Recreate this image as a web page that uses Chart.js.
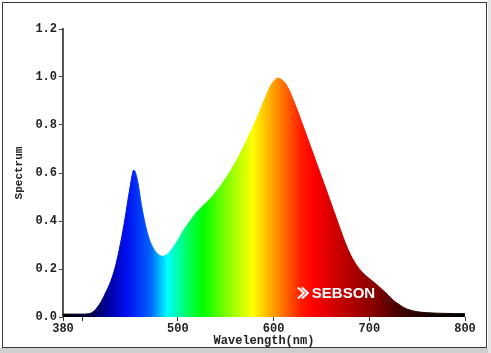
<!DOCTYPE html>
<html>
<head>
<meta charset="utf-8">
<script src="https://cdn.jsdelivr.net/npm/chart.js@4/dist/chart.umd.min.js"></script>
<style>
html,body{margin:0;padding:0;background:#fff;}
#wrap{width:491px;height:353px;position:relative;}
</style>
</head>
<body>
<div id="wrap"><canvas id="c" width="491" height="353"></canvas></div>
<script>
// ---- data ----
const wavelengths = [380,390,400,405,410,415,420,425,430,435,440,445,450,454,458,462,466,470,475,480,484,490,495,500,505,510,515,520,525,530,535,540,545,550,555,560,565,570,575,580,585,590,595,600,604,608,612,616,620,625,630,635,640,645,650,655,660,665,670,675,680,685,690,695,700,705,710,715,720,725,730,735,740,750,760,770,780,790,800];
const spectrum    = [0.012,0.012,0.012,0.013,0.018,0.036,0.065,0.105,0.15,0.215,0.305,0.415,0.54,0.612,0.565,0.465,0.385,0.325,0.282,0.259,0.253,0.265,0.29,0.32,0.355,0.385,0.413,0.438,0.458,0.478,0.498,0.522,0.548,0.578,0.608,0.643,0.68,0.72,0.762,0.805,0.852,0.902,0.948,0.982,0.995,0.99,0.975,0.948,0.91,0.86,0.805,0.75,0.695,0.64,0.585,0.53,0.474,0.418,0.362,0.308,0.262,0.226,0.198,0.177,0.16,0.144,0.127,0.109,0.09,0.07,0.055,0.042,0.032,0.022,0.018,0.016,0.015,0.014,0.014];
const xTickValues = [380,400,500,600,700,800];
const xTickLabels = ['380','','500','600','700','800'];
const yTickValues = [0,0.2,0.4,0.6,0.8,1.0,1.2];
const xTitle = 'Wavelength(nm)';
const yTitle = 'Spectrum';
const logoText = 'SEBSON';

// colour stops of the spectrum gradient (wavelength -> colour)
const gradNm     = [380,408,429,447,471,489,510,526,551,578,603,628,641,672,708,725,760,800];
const gradColors = ['#000000','#000040','#0000a8','#0010f0','#0060ff','#00ffff','#00ff60','#00ff00','#80ff00','#ffff00','#ff9000','#ff2000','#ff0000','#c00000','#800000','#500000','#180000','#000000'];

const mono = "'Liberation Mono','Courier New',monospace";

function spectrumGradient(chart){
  const xs = chart.scales && chart.scales.x;
  if(!xs || !chart.chartArea) return '#000';
  const x0 = xs.getPixelForValue(380), x1 = xs.getPixelForValue(800);
  if(!isFinite(x0) || !isFinite(x1) || x1<=x0) return '#000';
  const g = chart.ctx.createLinearGradient(x0,0,x1,0);
  gradNm.forEach((nm,i)=>g.addColorStop((nm-380)/420, gradColors[i]));
  return g;
}

const framePlugin = {
  id:'frame',
  beforeDraw(chart){
    const c = chart.ctx;
    c.save();
    c.fillStyle='#fff'; c.fillRect(0,0,491,353);
    c.fillStyle='#cfcfcf'; c.fillRect(0,348,491,5);
    c.fillStyle='#e6e6e6'; c.fillRect(488,0,3,353);
    c.strokeStyle='#3a3a3a'; c.lineWidth=1;
    c.strokeRect(2.5,2.5,484,345);
    c.restore();
  }
};

const logoPlugin = {
  id:'logo',
  afterDatasetsDraw(chart){
    const c = chart.ctx, xs = chart.scales.x, ys = chart.scales.y;
    const x = xs.getPixelForValue(640), y = ys.getPixelForValue(0.1);
    c.save();
    c.strokeStyle='#fff'; c.lineWidth=2; c.lineJoin='miter';
    c.beginPath(); c.moveTo(x-14,y-5.5); c.lineTo(x-8,y); c.lineTo(x-14,y+5.5); c.stroke();
    c.beginPath(); c.moveTo(x-10,y-5.5); c.lineTo(x-4,y); c.lineTo(x-10,y+5.5); c.stroke();
    c.fillStyle='#fff';
    c.font="bold 15px 'Liberation Sans',Arial,sans-serif";
    c.textBaseline='middle'; c.textAlign='left';
    c.fillText(logoText, x, y+0.5);
    c.restore();
  }
};

new Chart(document.getElementById('c'),{
  type:'line',
  data:{
    datasets:[{
      data: wavelengths.map((w,i)=>({x:w,y:spectrum[i]})),
      fill:'origin',
      backgroundColor: ctx=>spectrumGradient(ctx.chart),
      borderColor: ctx=>spectrumGradient(ctx.chart),
      borderWidth:1,
      pointRadius:0,
      cubicInterpolationMode:'monotone'
    }]
  },
  options:{
    responsive:false,
    animation:false,
    events:[],
    layout:{padding:{left:0,top:29,right:26,bottom:0}},
    plugins:{legend:{display:false},tooltip:{enabled:false}},
    scales:{
      x:{
        type:'linear', min:380, max:800,
        afterBuildTicks(s){ s.ticks = xTickValues.map(v=>({value:v})); },
        afterFit(s){ s.height = 36; },
        border:{display:false},
        grid:{drawOnChartArea:false, drawTicks:true, tickLength:4, color:'#333', lineWidth:1},
        ticks:{
          callback:(v)=>{ const i = xTickValues.indexOf(v); return i>=0 ? xTickLabels[i] : ''; },
          font:{family:mono, size:12, weight:'bold'}, color:'#222', padding:1, maxRotation:0, autoSkip:false
        },
        title:{display:true, text:xTitle, font:{family:mono, size:12, weight:'bold'}, color:'#222', padding:{top:0,bottom:5}}
      },
      y:{
        min:0, max:1.2,
        afterBuildTicks(s){ s.ticks = yTickValues.map(v=>({value:v})); },
        afterFit(s){ s.width = 63; },
        border:{display:true, color:'#555', width:2},
        grid:{drawOnChartArea:false, drawTicks:true, tickLength:4, color:'#444', lineWidth:1},
        ticks:{
          callback:(v)=>Number(v).toFixed(1),
          font:{family:mono, size:12, weight:'bold'}, color:'#222', padding:2
        },
        title:{display:true, text:yTitle, font:{family:mono, size:11, weight:'bold'}, color:'#222', padding:{top:13,bottom:0}}
      }
    }
  },
  plugins:[framePlugin, logoPlugin]
});
</script>
</body>
</html>
